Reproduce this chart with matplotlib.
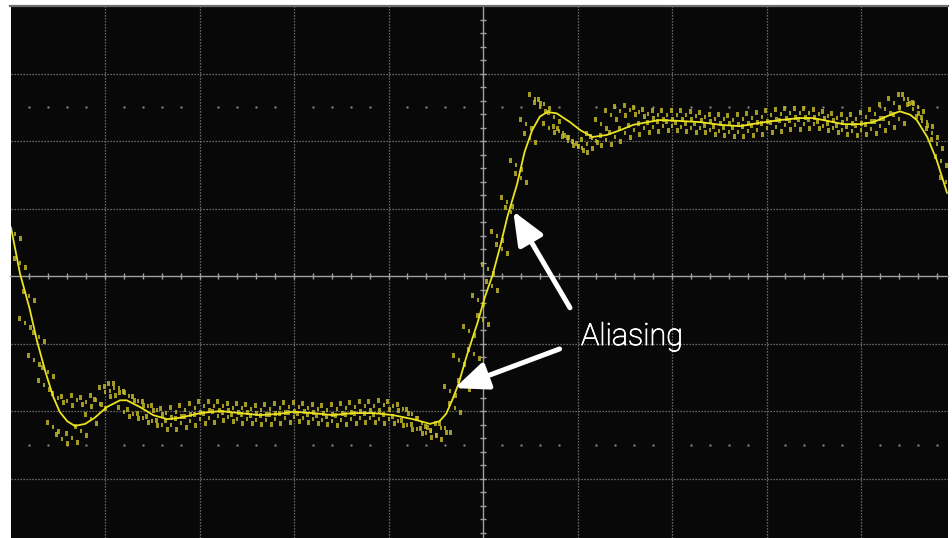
import numpy as np
import matplotlib
matplotlib.use('Agg')
import matplotlib.pyplot as plt
import matplotlib.patheffects as pe
from matplotlib.patches import FancyArrowPatch
from matplotlib.path import Path

# screen units are divisions: 10 across, 8 high (bottom is cut off a little)
trace_t = [-4.995, -4.90, -4.80, -4.72, -4.63, -4.55, -4.48, -4.40, -4.32, -4.21,
           -4.11, -3.98, -3.84, -3.77, -3.63, -3.49, -3.34, -3.21, -2.99, -2.78,
           -2.57, -2.36, -2.15, -2.01, -1.80, -1.59, -1.38, -1.16, -0.95, -0.74,
           -0.56, -0.46, -0.39, -0.33, -0.26, -0.17, -0.06, 0.02, 0.10, 0.18,
           0.26, 0.36, 0.44, 0.52, 0.60, 0.68, 0.78, 0.92, 1.03, 1.16,
           1.31, 1.45, 1.59, 1.74, 1.87, 2.05, 2.30, 2.51, 2.72, 2.93,
           3.14, 3.35, 3.49, 3.64, 3.81, 3.99, 4.13, 4.28, 4.41, 4.52,
           4.59, 4.70, 4.80, 4.91]
trace_v = [0.72, 0.04, -0.47, -0.96, -1.42, -1.78, -2.01, -2.15, -2.22, -2.19,
           -2.10, -1.94, -1.84, -1.84, -1.94, -2.06, -2.12, -2.10, -2.03, -2.00,
           -2.03, -2.06, -2.04, -2.01, -2.03, -2.06, -2.03, -2.03, -2.06, -2.12,
           -2.19, -2.15, -2.04, -1.85, -1.60, -1.17, -0.70, -0.31, 0.01, 0.43,
           0.89, 1.36, 1.84, 2.16, 2.36, 2.43, 2.41, 2.28, 2.16, 2.06,
           2.09, 2.16, 2.24, 2.28, 2.31, 2.30, 2.28, 2.24, 2.22, 2.27,
           2.31, 2.34, 2.34, 2.30, 2.25, 2.25, 2.28, 2.37, 2.44, 2.39,
           2.31, 2.06, 1.72, 1.23]

# aliased samples, two interleaved acquisitions, 0.1 div apart
alias_a_t0 = -4.95
alias_a = [0.62, -0.70, -1.25, -1.62, -2.24, -2.42, -2.40, -2.30, -2.12, -1.90,
           -1.70, -1.66, -1.78, -1.85, -1.92, -1.98, -2.03, -2.02, -1.99, -1.95,
           -1.93, -1.92, -1.93, -1.95, -1.96, -1.97, -1.98, -1.97, -1.96, -1.94,
           -1.94, -1.95, -1.97, -1.98, -1.97, -1.95, -1.94, -1.93, -1.92, -1.91,
           -1.92, -1.97, -2.05, -2.18, -2.30, -2.25, -1.70, -1.25, -0.82, -0.35,
           0.10, 0.60, 1.10, 1.65, 2.25, 2.62, 2.55, 2.35, 2.12, 1.98,
           1.90, 2.05, 2.25, 2.38, 2.44, 2.46, 2.43, 2.40, 2.39, 2.39,
           2.39, 2.38, 2.37, 2.35, 2.33, 2.32, 2.31, 2.32, 2.34, 2.36,
           2.38, 2.40, 2.42, 2.42, 2.42, 2.40, 2.37, 2.34, 2.33, 2.33,
           2.35, 2.40, 2.48, 2.56, 2.62, 2.48, 2.30, 2.12, 1.70]
alias_b_t0 = -4.90
alias_b = [0.20, -0.30, -0.90, -1.42, -1.80, -1.85, -1.84, -1.86, -1.83, -1.72,
           -1.66, -2.02, -2.05, -2.10, -2.15, -2.20, -2.20, -2.18, -2.15, -2.12,
           -2.10, -2.08, -2.09, -2.11, -2.12, -2.13, -2.13, -2.12, -2.10, -2.09,
           -2.10, -2.11, -2.13, -2.14, -2.13, -2.11, -2.10, -2.10, -2.11, -2.12,
           -2.15, -2.20, -2.26, -2.33, -2.36, -2.25, -1.95, -1.62, -1.15, -0.65,
           -0.15, 0.40, 0.95, 1.45, 2.05, 2.50, 2.20, 2.15, 2.00, 1.92,
           1.95, 2.00, 2.02, 2.06, 2.12, 2.16, 2.19, 2.21, 2.22, 2.22,
           2.21, 2.20, 2.19, 2.17, 2.15, 2.14, 2.13, 2.15, 2.17, 2.19,
           2.21, 2.23, 2.24, 2.25, 2.25, 2.22, 2.19, 2.16, 2.15, 2.16,
           2.18, 2.22, 2.26, 2.32, 2.62, 2.50, 2.28, 1.95, 1.40]
alias_dt = 0.1

label = 'Aliasing'
arrow_tips = [(0.32, 0.96), (-0.30, -1.66)]
arrow_tails = [(0.92, -0.47), (0.81, -1.08)]


def rect(x0, x1, y0, y1):
    return Path([(x0, y0), (x1, y0), (x1, y1), (x0, y1), (x0, y0)],
                [Path.MOVETO, Path.LINETO, Path.LINETO, Path.LINETO,
                 Path.CLOSEPOLY])


# each acquired sample shows up as a small cluster of phosphor dashes
speckle = Path.make_compound_path(rect(-0.95, -0.62, 0.3, 1.0),
                                  rect(-0.17, 0.16, -0.35, 0.35),
                                  rect(0.62, 0.95, -1.0, -0.3))

W, H = 953, 538
fig = plt.figure(figsize=(W / 100, H / 100), dpi=100, facecolor='white')
ax = fig.add_axes([10.5 / W, 0, (948 - 10.5) / W, (H - 6) / H])
ax.set_facecolor('#080808')
ax.set_xlim(-5, 4.92)
ax.set_ylim(-3.88, 4.0)

grid_kw = dict(color='#858585', lw=0.9, ls=(0, (1, 1.4)), zorder=1)
for gx in range(-4, 5):
    if gx != 0:
        ax.axvline(gx, **grid_kw)
for gy in range(-3, 4):
    if gy != 0:
        ax.axhline(gy, **grid_kw)

# 10% / 90% marker rows
mx = [v for v in np.arange(-4.8, 4.9, 0.2) if abs(v - round(v)) > 0.05]
for my in (2.5, -2.5):
    ax.plot(mx, [my] * len(mx), ls='none', marker='s', ms=1.6,
            color='#8c8c8c', mec='none', zorder=1)

# center graticule axes with small ticks
ax.spines['right'].set_visible(False)
ax.spines['top'].set_color('#6e6e6e')
ax.spines['top'].set_linewidth(1.6)
for side in ('left', 'bottom'):
    ax.spines[side].set_position('zero')
    ax.spines[side].set_color('#a0a0a0')
    ax.spines[side].set_linewidth(1.0)
ax.set_xticks(np.arange(-4.8, 4.9, 0.2))
ax.set_yticks(np.arange(-3.8, 4.0, 0.2))
ax.tick_params(direction='inout', length=5, width=1, color='#a0a0a0',
               labelbottom=False, labelleft=False)

ta = alias_a_t0 + alias_dt * np.arange(len(alias_a))
tb = alias_b_t0 + alias_dt * np.arange(len(alias_b))
for t, v in ((ta, alias_a), (tb, alias_b)):
    ax.plot(t, v, ls='none', marker=speckle, ms=10, mew=0,
            color='#c8be2c', alpha=0.8, zorder=3)

ax.plot(trace_t, trace_v, color='#ebe31e', lw=1.3, zorder=4,
        solid_capstyle='round')

for tip, tail in zip(arrow_tips, arrow_tails):
    ax.add_patch(FancyArrowPatch(tail, tip,
                                 arrowstyle='-|>,head_length=1.0,head_width=0.42',
                                 mutation_scale=20, lw=3.6, color='white',
                                 shrinkA=0, shrinkB=0, zorder=6))

ax.text(1.037, -1.022, label, color='white', fontsize=22, family='Roboto',
        fontweight='light', ha='left', va='baseline', zorder=7,
        path_effects=[pe.withStroke(linewidth=0.6, foreground='white')])

fig.savefig('out.png', dpi=100, facecolor='white')
